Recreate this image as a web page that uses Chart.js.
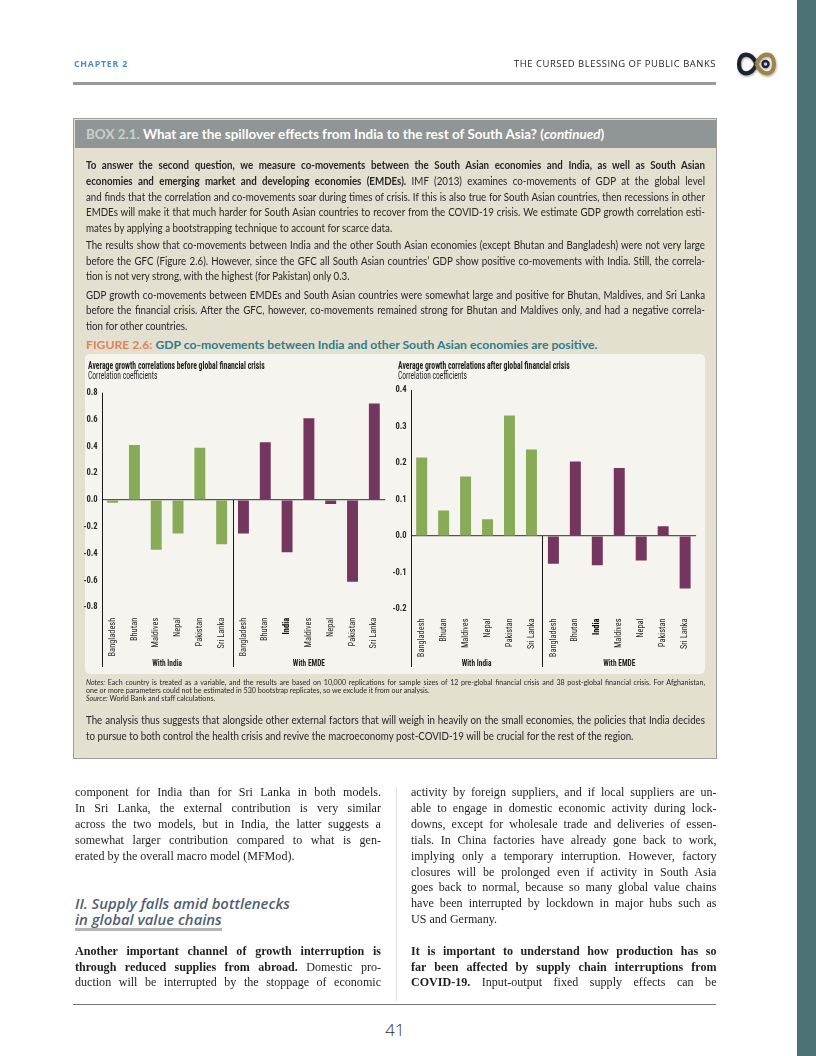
<!DOCTYPE html>
<html><head><meta charset="utf-8">
<script src="https://cdn.jsdelivr.net/npm/chart.js@4.4.0/dist/chart.umd.min.js"></script>
<style>
html,body{margin:0;padding:0;}
body{width:816px;height:1056px;position:relative;overflow:hidden;background:#fff;font-family:Lato,'Open Sans',sans-serif;color:#2a2a2a;}
.abs{position:absolute;}
.ln{display:block;white-space:normal;text-align:justify;text-align-last:left;overflow:visible;}
.ln.j{text-align-last:justify;}
.measure .ln>span{white-space:nowrap;}
.box{left:73px;top:118px;width:644px;height:641px;background:#e4e0d0;border:1.5px solid #9c9c98;box-sizing:border-box;}
.boxhead{left:74.5px;top:119.5px;width:641px;height:28.5px;background:#8f9695;}
.boxtxt{left:86px;width:619px;font-size:10.5px;color:#262626;}
.serif{font-family:'Liberation Serif','DejaVu Serif',serif;color:#1e1e1e;font-size:12.2px;}
.nowrap{white-space:nowrap;display:inline-block;}
.ctitle{white-space:nowrap;display:inline-block;color:#1e1e1e;font-family:'Roboto Condensed','DejaVu Sans Condensed',sans-serif;font-size:10px;line-height:10px;}
</style></head>
<body>
<div class="abs" style="left:797px;top:0;width:19px;height:1056px;background:#4c7275"></div>

<!-- page header -->
<div class="abs nowrap" id="chap" style="left:74px;top:57.5px;font-family:'Open Sans',sans-serif;font-weight:700;font-size:9px;line-height:12px;letter-spacing:0.8px;color:#4a8dc6">CHAPTER 2</div>
<div class="abs nowrap" id="runhead" style="left:514px;top:57.5px;font-family:'Open Sans',sans-serif;font-weight:500;font-size:9px;line-height:12px;letter-spacing:0.5px;color:#1e1e1e">THE CURSED BLESSING OF PUBLIC BANKS</div>
<div class="abs" style="left:73px;top:82px;width:643px;height:2.5px;background:#999"></div>
<svg class="abs" style="left:737px;top:52px" width="44" height="28" viewBox="0 0 44 28">
 <defs><filter id="sh" x="-20%" y="-20%" width="140%" height="150%"><feDropShadow dx="0.6" dy="1.2" stdDeviation="0.9" flood-opacity="0.35"/></filter></defs>
 <g filter="url(#sh)" fill="none" stroke-width="4.2">
  <path d="M19.5 12 C14.5 -0.5, 2 -0.5, 2 12 C2 24.5, 14.5 24.5, 19.5 12" stroke="#1d2433"/>
  <path d="M19.5 12 C24.5 -0.5, 37 -0.5, 37 12 C37 24.5, 24.5 24.5, 19.5 12" stroke="#9d8545"/>
  <circle cx="28.5" cy="12" r="3" stroke="#1d2433" stroke-width="2.4"/>
 </g>
</svg>

<!-- box -->
<div class="abs box"></div>
<div class="abs boxhead"></div>
<div class="abs nowrap" id="boxtitle" style="left:86px;top:126px;font-weight:bold;font-size:13px;line-height:16px;color:#fff"><span style="color:#c9cfcc">BOX 2.1.</span> What are the spillover effects from India to the rest of South Asia? (<i>continued</i>)</div>

<div class="abs boxtxt fitA" style="top:158.1px;line-height:15.7px">
 <div class="ln j"><span><b>To answer the second question, we measure co-movements between the South Asian economies and India, as well as South Asian</b></span></div>
 <div class="ln j"><span><b>economies and emerging market and developing economies (EMDEs).</b> IMF (2013) examines co-movements of GDP at the global level</span></div>
 <div class="ln j"><span>and finds that the correlation and co-movements soar during times of crisis. If this is also true for South Asian countries, then recessions in other</span></div>
 <div class="ln j"><span>EMDEs will make it that much harder for South Asian countries to recover from the COVID-19 crisis. We estimate GDP growth correlation esti-</span></div>
 <div class="ln"><span>mates by applying a bootstrapping technique to account for scarce data.</span></div>
</div>
<div class="abs boxtxt fitA" style="top:238.2px;line-height:15.5px">
 <div class="ln j"><span>The results show that co-movements between India and the other South Asian economies (except Bhutan and Bangladesh) were not very large</span></div>
 <div class="ln j"><span>before the GFC (Figure 2.6). However, since the GFC all South Asian countries’ GDP show positive co-movements with India. Still, the correla-</span></div>
 <div class="ln"><span>tion is not very strong, with the highest (for Pakistan) only 0.3.</span></div>
</div>
<div class="abs boxtxt fitA" style="top:287.9px;line-height:15.5px">
 <div class="ln j"><span>GDP growth co-movements between EMDEs and South Asian countries were somewhat large and positive for Bhutan, Maldives, and Sri Lanka</span></div>
 <div class="ln j"><span>before the financial crisis. After the GFC, however, co-movements remained strong for Bhutan and Maldives only, and had a negative correla-</span></div>
 <div class="ln"><span>tion for other countries.</span></div>
</div>
<div class="abs nowrap" id="figtitle" style="left:86px;top:337.5px;font-weight:bold;font-size:12px;line-height:14px;color:#2f7c8a"><span style="color:#e0845a">FIGURE 2.6:</span> GDP co-movements between India and other South Asian economies are positive.</div>

<!-- chart panel -->
<div class="abs" style="left:85px;top:354px;width:619.5px;height:320px;background:#f5f4ef;border-radius:5px"></div>
<div class="abs ctitle" id="t1" style="left:88.3px;top:361px;font-weight:bold"></div>
<div class="abs ctitle" id="s1" style="left:88.3px;top:370.5px"></div>
<div class="abs ctitle" id="t2" style="left:398.3px;top:361px;font-weight:bold"></div>
<div class="abs ctitle" id="s2" style="left:398.3px;top:370.5px"></div>
<div class="abs" style="left:75px;top:354px;width:320px;height:318px"><canvas id="c1"></canvas></div>
<div class="abs" style="left:385px;top:354px;width:320px;height:318px"><canvas id="c2"></canvas></div>

<div class="abs boxtxt fitN" style="top:679.2px;line-height:8.1px;font-size:7.2px">
 <div class="ln j"><span><i>Notes:</i> Each country is treated as a variable, and the results are based on 10,000 replications for sample sizes of 12 pre-global financial crisis and 38 post-global financial crisis. For Afghanistan,</span></div>
 <div class="ln"><span>one or more parameters could not be estimated in 530 bootstrap replicates, so we exclude it from our analysis.</span></div>
 <div class="ln"><span><i>Source:</i> World Bank and staff calculations.</span></div>
</div>
<div class="abs boxtxt fitA" style="top:713.3px;line-height:15.3px">
 <div class="ln j"><span>The analysis thus suggests that alongside other external factors that will weigh in heavily on the small economies, the policies that India decides</span></div>
 <div class="ln"><span>to pursue to both control the health crisis and revive the macroeconomy post-COVID-19 will be crucial for the rest of the region.</span></div>
</div>

<!-- body columns -->
<div class="abs" style="left:396px;top:787px;width:1px;height:214px;background:#e2e2e2"></div>
<div class="abs serif fitS" style="left:75px;top:785.4px;width:306px;line-height:15.83px">
 <div class="ln j"><span>component for India than for Sri Lanka in both models.</span></div>
 <div class="ln j"><span>In Sri Lanka, the external contribution is very similar</span></div>
 <div class="ln j"><span>across the two models, but in India, the latter suggests a</span></div>
 <div class="ln j"><span>somewhat larger contribution compared to what is gen-</span></div>
 <div class="ln"><span>erated by the overall macro model (MFMod).</span></div>
</div>
<div class="abs" id="h1" style="left:75px;top:895px;font-family:'Open Sans',sans-serif;font-style:italic;font-weight:600;font-size:13.5px;line-height:16px;color:#4f5f72">
 <div class="nowrap" id="h1a">II. Supply falls amid bottlenecks</div><br>
 <div class="nowrap" id="h1b" style="margin-top:-16px">in global value chains</div>
</div>
<div class="abs" style="left:75px;top:928px;width:147px;height:2.5px;background:#b3b3b3"></div>
<div class="abs serif fitS" style="left:75px;top:943.7px;width:306px;line-height:15.83px">
 <div class="ln j"><span><b>Another important channel of growth interruption is</b></span></div>
 <div class="ln j"><span><b>through reduced supplies from abroad.</b> Domestic pro-</span></div>
 <div class="ln j"><span>duction will be interrupted by the stoppage of economic</span></div>
</div>
<div class="abs serif fitS" style="left:411px;top:785.4px;width:305.5px;line-height:15.83px">
 <div class="ln j"><span>activity by foreign suppliers, and if local suppliers are un-</span></div>
 <div class="ln j"><span>able to engage in domestic economic activity during lock-</span></div>
 <div class="ln j"><span>downs, except for wholesale trade and deliveries of essen-</span></div>
 <div class="ln j"><span>tials. In China factories have already gone back to work,</span></div>
 <div class="ln j"><span>implying only a temporary interruption. However, factory</span></div>
 <div class="ln j"><span>closures will be prolonged even if activity in South Asia</span></div>
 <div class="ln j"><span>goes back to normal, because so many global value chains</span></div>
 <div class="ln j"><span>have been interrupted by lockdown in major hubs such as</span></div>
 <div class="ln"><span>US and Germany.</span></div>
</div>
<div class="abs serif fitS" style="left:411px;top:943.7px;width:305.5px;line-height:15.83px">
 <div class="ln j"><span><b>It is important to understand how production has so</b></span></div>
 <div class="ln j"><span><b>far been affected by supply chain interruptions from</b></span></div>
 <div class="ln j"><span><b>COVID-19.</b> Input-output fixed supply effects can be</span></div>
</div>

<div class="abs" style="left:73px;top:1004px;width:643px;height:1px;background:#777"></div>
<div class="abs" style="left:0;width:790px;top:1019px;text-align:center;font-family:'Open Sans',sans-serif;font-weight:300;font-size:17px;line-height:22px;color:#333">41</div>

<script>
// ---- data ----
const indiaCategories = ['Bangladesh','Bhutan','Maldives','Nepal','Pakistan','Sri Lanka'];
const emdeCategories  = ['Bangladesh','Bhutan','India','Maldives','Nepal','Pakistan','Sri Lanka'];
const groupNames = ['With India','With EMDE'];
const beforeWithIndia = [-0.02, 0.41, -0.37, -0.25, 0.39, -0.33];
const beforeWithEMDE  = [-0.25, 0.43, -0.39, 0.61, -0.03, -0.61, 0.72];
const afterWithIndia  = [0.215, 0.07, 0.163, 0.046, 0.33, 0.237];
const afterWithEMDE   = [-0.076, 0.204, -0.08, 0.186, -0.067, 0.027, -0.144];
const beforeTicks = [-0.8, -0.6, -0.4, -0.2, 0, 0.2, 0.4, 0.6, 0.8];
const afterTicks  = [-0.2, -0.1, 0, 0.1, 0.2, 0.3, 0.4];
const beforeTitle = 'Average growth correlations before global financial crisis';
const afterTitle  = 'Average growth correlations after global financial crisis';
const unitLabel   = 'Correlation coefficients';

const GREEN = '#88ab57', PURPLE = '#74365f';
const NARROW = "'Roboto Condensed','DejaVu Sans Condensed',sans-serif";

// ---- text fitting helpers ----
function squeeze(el, w){ const r = el.getBoundingClientRect().width; el.style.transformOrigin='0 50%'; el.style.transform='scaleX('+(w/r)+')'; }
function fitFont(el, w){ const r = el.getBoundingClientRect().width; const fs = parseFloat(getComputedStyle(el).fontSize); el.style.fontSize = (fs*w/r)+'px'; }
function fitGroupScale(sel, lo, hi){
  const blocks = Array.from(document.querySelectorAll(sel));
  document.body.classList.add('measure');
  let ratio = Infinity;
  blocks.forEach(b => {
    b.querySelectorAll('.ln').forEach(l => {
      const w = l.firstElementChild.getBoundingClientRect().width;
      ratio = Math.min(ratio, l.clientWidth / w);
    });
  });
  document.body.classList.remove('measure');
  const s = Math.max(lo, Math.min(hi, ratio * 0.99));
  blocks.forEach(b => {
    const W = b.getBoundingClientRect().width;
    b.style.width = (W / s) + 'px';
    b.style.transformOrigin = '0 0';
    b.style.transform = 'scaleX(' + s + ')';
  });
}
fitGroupScale('.fitA', 0.7, 1.1);
fitGroupScale('.fitN', 0.7, 1.1);
fitGroupScale('.fitS', 0.8, 1.08);
fitFont(document.getElementById('boxtitle'), 519);
fitFont(document.getElementById('figtitle'), 512);
squeeze(document.getElementById('chap'), 54);
squeeze(document.getElementById('runhead'), 202);
fitFont(document.getElementById('h1a'), 215);
document.getElementById('h1b').style.fontSize = document.getElementById('h1a').style.fontSize;

document.getElementById('t1').textContent = beforeTitle;
document.getElementById('s1').textContent = unitLabel;
document.getElementById('t2').textContent = afterTitle;
document.getElementById('s2').textContent = unitLabel;
squeeze(document.getElementById('t1'), 176.7);
squeeze(document.getElementById('s1'), 69.4);
squeeze(document.getElementById('t2'), 171.7);
squeeze(document.getElementById('s2'), 69);

// ---- chart ----
const framePlugin = {
  id: 'frame',
  afterDraw(chart){
    const {ctx, chartArea: ca, scales: {x, y}} = chart;
    const nI = indiaCategories.length, nE = emdeCategories.length;
    const bottom = chart.height - 5;
    ctx.save();
    ctx.strokeStyle = '#1a1a1a'; ctx.lineWidth = 1;
    ctx.beginPath();
    const ax = Math.round(ca.left) + 0.5;
    ctx.moveTo(ax, ca.top); ctx.lineTo(ax, bottom);
    const dx = Math.round((x.getPixelForValue(nI - 1) + x.getPixelForValue(nI)) / 2) + 0.5;
    ctx.moveTo(dx, y.getPixelForValue(0)); ctx.lineTo(dx, bottom);
    ctx.stroke();
    ctx.fillStyle = '#1e1e1e';
    ctx.font = 'bold 9.5px ' + NARROW;
    ctx.textAlign = 'center'; ctx.textBaseline = 'middle';
    [[0, nI - 1], [nI, nI + nE - 1]].forEach((g, i) => {
      const cx = (x.getPixelForValue(g[0]) + x.getPixelForValue(g[1])) / 2;
      ctx.save(); ctx.translate(cx, chart.height - 8.5); ctx.scale(0.78, 1);
      ctx.fillText(groupNames[i], 0, 0); ctx.restore();
    });
    ctx.restore();
  }
};

function buildChart(id, cfg){
  const nI = indiaCategories.length, nE = emdeCategories.length;
  const labels = indiaCategories.concat(emdeCategories);
  const isZero = c => c.tick && Math.abs(c.tick.value) < 1e-9;
  return new Chart(document.getElementById(id), {
    type: 'bar',
    data: { labels, datasets: [
      { label: groupNames[0], data: cfg.india.concat(new Array(nE).fill(null)), backgroundColor: GREEN, grouped: false, barPercentage: 0.5, categoryPercentage: 1 },
      { label: groupNames[1], data: new Array(nI).fill(null).concat(cfg.emde), backgroundColor: PURPLE, grouped: false, barPercentage: 0.5, categoryPercentage: 1 }
    ]},
    options: {
      responsive: true, maintainAspectRatio: false, animation: false, devicePixelRatio: 1,
      layout: { padding: { top: cfg.padTop, right: cfg.padRight, left: 0, bottom: 0 } },
      plugins: { legend: { display: false }, tooltip: { enabled: false }, title: { display: false } },
      scales: {
        x: {
          grid: { display: false, drawTicks: false }, border: { display: false },
          ticks: {
            autoSkip: false, minRotation: 90, maxRotation: 90, padding: cfg.xPad,
            color: c => labels[c.index] === 'India' ? '#000' : '#2a2a2a',
            font: c => ({ family: NARROW, size: 8.4, weight: labels[c.index] === 'India' ? 'bold' : 'normal' })
          },
          afterFit: s => { s.height = cfg.xHeight; }
        },
        y: {
          min: cfg.ticks[0], max: cfg.ticks[cfg.ticks.length - 1],
          afterBuildTicks: s => { s.ticks = cfg.ticks.map(v => ({ value: v })); },
          ticks: { padding: 4, color: '#2a2a2a', font: { family: NARROW, size: 8.6, weight: 'bold' }, callback: v => Number(v).toFixed(1) },
          grid: { drawTicks: false, color: c => isZero(c) ? '#555' : 'rgba(0,0,0,0)', lineWidth: c => isZero(c) ? 1.2 : 1 },
          border: { display: false },
          afterFit: s => { s.width = cfg.yWidth; }
        }
      }
    },
    plugins: [framePlugin]
  });
}

buildChart('c1', { india: beforeWithIndia, emde: beforeWithEMDE, ticks: beforeTicks, padTop: 38.7, padRight: 2.3, xHeight: 64.7, yWidth: 26.7, xPad: 10.5 });
buildChart('c2', { india: afterWithIndia, emde: afterWithEMDE, ticks: afterTicks, padTop: 36, padRight: 7.7, xHeight: 63, yWidth: 25.7, xPad: 9.5 });
</script>
</body></html>
